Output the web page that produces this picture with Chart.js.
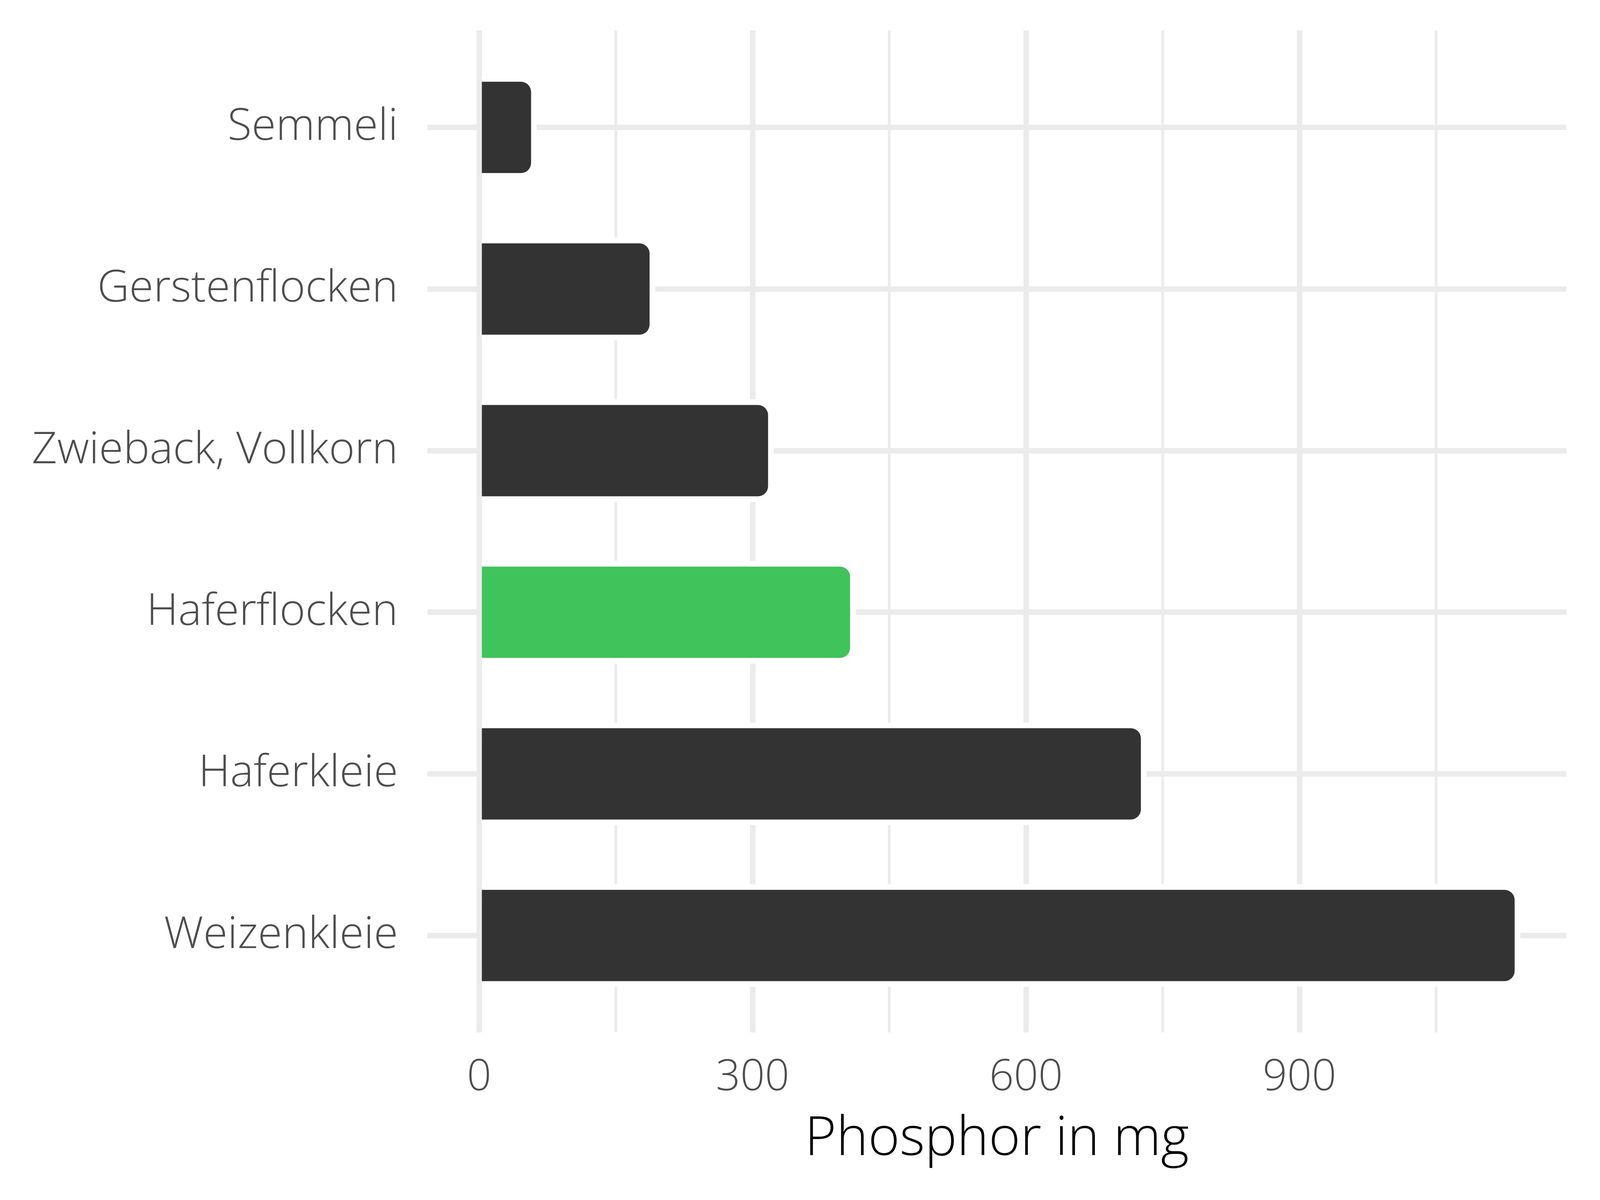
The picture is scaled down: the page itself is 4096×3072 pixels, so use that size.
<!DOCTYPE html>
<html>
<head>
<meta charset="utf-8">
<script src="https://cdn.jsdelivr.net/npm/chart.js@4/dist/chart.umd.min.js"></script>
<style>
html,body{margin:0;padding:0;background:#fff;}
canvas{display:block;}
</style>
</head>
<body>
<canvas id="c" width="4096" height="3072"></canvas>
<script>
const categories = ["Semmeli", "Gerstenflocken", "Zwieback, Vollkorn", "Haferflocken", "Haferkleie", "Weizenkleie"];
const values = [57, 187, 317, 407, 726, 1136];
const barColors = ["#333333", "#333333", "#333333", "#40C35A", "#333333", "#333333"];
const xTickValues = [0, 150, 300, 450, 600, 750, 900, 1050];
const xTickLabels = ["0", "", "300", "", "600", "", "900", ""];
const axisTitle = "Phosphor in mg";

const FONT = "'Open Sans', 'Noto Sans', sans-serif";

const haloPlugin = {
  id: 'halo',
  beforeDatasetsDraw(chart) {
    const ctx = chart.ctx;
    const meta = chart.getDatasetMeta(0);
    const pad = 14.5;
    ctx.save();
    ctx.fillStyle = '#ffffff';
    meta.data.forEach(el => {
      const p = el.getProps(['x', 'y', 'base', 'height'], true);
      const left = Math.min(p.base, p.x);
      const right = Math.max(p.base, p.x) + pad;
      const top = p.y - p.height / 2 - pad;
      const bottom = p.y + p.height / 2 + pad;
      const r = 26 + pad;
      ctx.beginPath();
      ctx.moveTo(left, top);
      ctx.lineTo(right - r, top);
      ctx.arcTo(right, top, right, top + r, r);
      ctx.lineTo(right, bottom - r);
      ctx.arcTo(right, bottom, right - r, bottom, r);
      ctx.lineTo(left, bottom);
      ctx.closePath();
      ctx.fill();
    });
    ctx.restore();
  }
};

const zeroPad = s => { s.paddingTop = 0; s.paddingBottom = 0; s.paddingLeft = 0; s.paddingRight = 0; };

new Chart(document.getElementById('c'), {
  type: 'bar',
  data: {
    datasets: [{
      data: values.map((v, i) => ({ x: v, y: i })),
      backgroundColor: barColors,
      borderWidth: 0,
      borderRadius: 26,
      borderSkipped: 'start',
      barPercentage: 0.565,
      categoryPercentage: 1.0
    }]
  },
  options: {
    indexAxis: 'y',
    responsive: false,
    animation: false,
    devicePixelRatio: 1,
    layout: { padding: { left: 0, right: 86, top: 78, bottom: 0 } },
    plugins: { legend: { display: false }, tooltip: { enabled: false } },
    scales: {
      x: {
        type: 'linear',
        position: 'bottom',
        min: -56.8,
        max: 1192.8,
        offset: false,
        afterBuildTicks: s => { s.ticks = xTickValues.map(v => ({ value: v })); },
        afterFit: s => { s.height = 3072 - 2643; zeroPad(s); },
        grid: {
          color: '#EBEBEB',
          offset: false,
          lineWidth: c => (c.tick && c.tick.value % 300 === 0) ? 14 : 7,
          drawTicks: false
        },
        border: { display: false },
        ticks: {
          autoSkip: false,
          maxRotation: 0,
          padding: 51,
          color: '#4D4D4D',
          font: { family: FONT, size: 110, weight: '300' },
          callback: (v) => { const i = xTickValues.indexOf(v); return i >= 0 ? xTickLabels[i] : ''; }
        },
        title: {
          display: true,
          text: axisTitle,
          color: '#000000',
          font: { family: FONT, size: 138, weight: '300' },
          padding: { top: 0, bottom: 72 }
        }
      },
      y: {
        type: 'linear',
        reverse: true,
        min: -0.6,
        max: 5.6,
        offset: false,
        afterBuildTicks: s => { s.ticks = categories.map((c, i) => ({ value: i })); },
        afterFit: s => { s.width = 1094; zeroPad(s); },
        grid: { color: '#EBEBEB', lineWidth: 14, drawTicks: false, offset: false },
        border: { display: false },
        ticks: {
          autoSkip: false,
          padding: 75,
          color: '#4D4D4D',
          font: { family: FONT, size: 113, weight: '300' },
          callback: (v) => categories[v] !== undefined ? categories[v] : ''
        }
      }
    }
  },
  plugins: [haloPlugin]
});
</script>
</body>
</html>
